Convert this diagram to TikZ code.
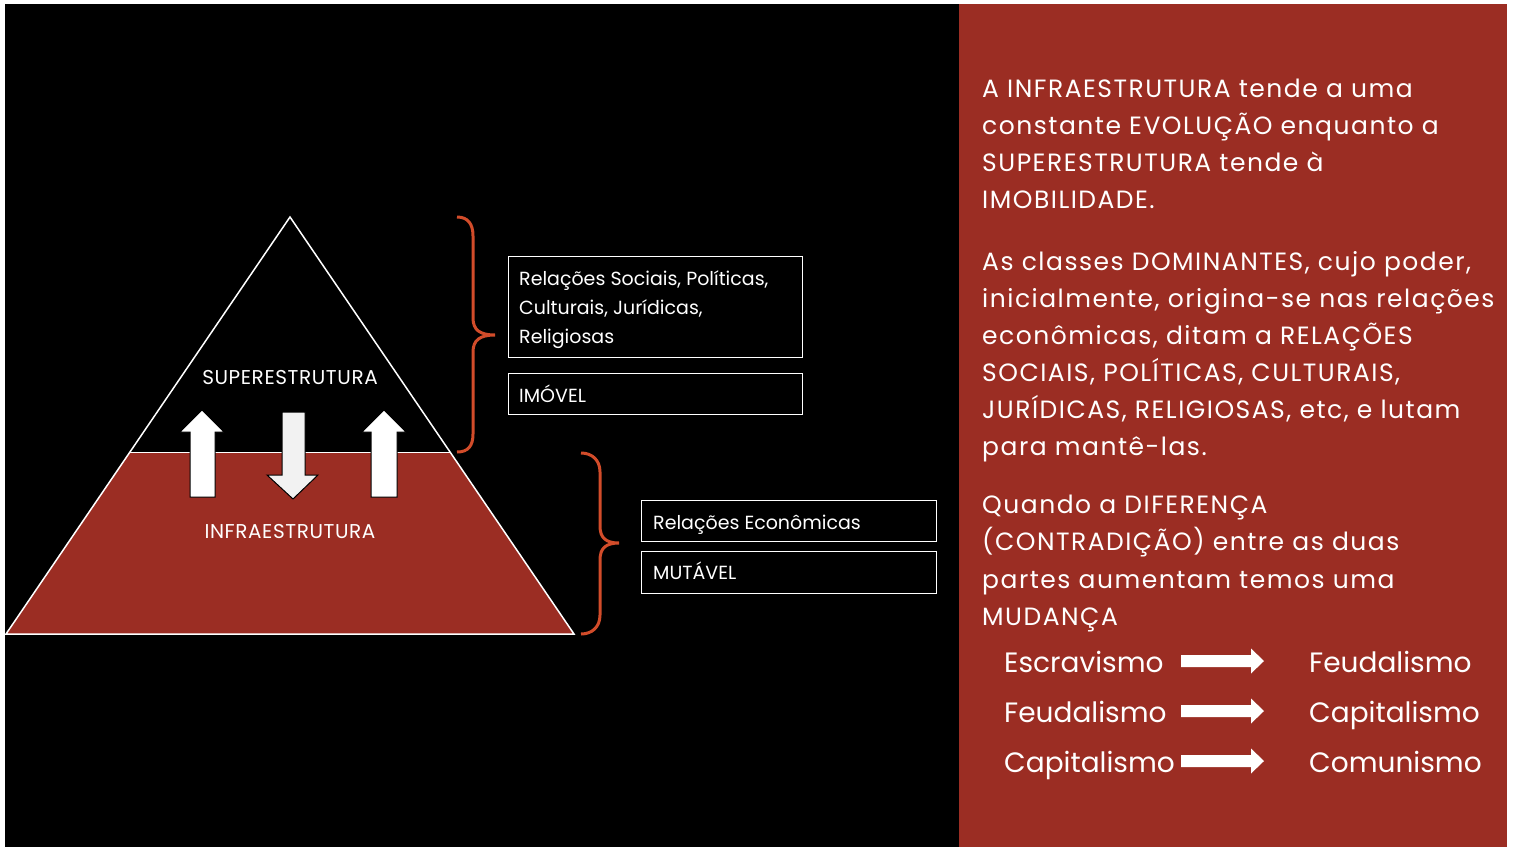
\documentclass[tikz,border=0pt]{standalone}
\usepackage{fontspec}
\setmainfont{Poppins}
\newfontfamily\parafont[LetterSpace=6]{Poppins}
\newfontfamily\tribfont[LetterSpace=3]{Poppins}
\definecolor{panelred}{HTML}{9B2D23}
\definecolor{bracecol}{HTML}{D24C2A}
\definecolor{arrowgray}{HTML}{F2F2F2}
\newcommand{\fs}[1]{\fontsize{#1}{#1}\selectfont}
\begin{document}
\begin{tikzpicture}[x=1pt,y=-1pt,
  txt/.style={text=white,inner sep=0pt,anchor=base west},
  ptxt/.style={txt,font=\parafont\fs{25}},
  ltxt/.style={txt,font=\fs{28}},
  btxt/.style={txt,font=\fs{19}},
  ttxt/.style={text=white,inner sep=0pt,anchor=base,font=\tribfont\fs{20}},
  boxnode/.style={draw=white,line width=1.1pt,anchor=north west,inner sep=0pt},
  brace/.style={draw=bracecol,line width=3pt},
  blockarrow/.style={draw=black,line width=1pt,line join=miter},
  rarrow/.style={fill=white}]
\useasboundingbox (0,0) rectangle (1515,847);
\fill[white] (0,0) rectangle (1515,847);
\fill[black] (5,4) rectangle (959,847);
\fill[panelred] (959,4) rectangle (1507,847);

% pyramid
\coordinate (apex) at (290,217);
\coordinate (bl) at (6,634);
\coordinate (br) at (574,634);
\coordinate (ml) at (130,452);
\coordinate (mr) at (450,452);
\fill[panelred] (ml) -- (mr) -- (br) -- (bl) -- cycle;
\draw[white,line width=1.5pt,line join=miter] (apex) -- (br) -- (bl) -- cycle;
\draw[white,line width=1pt] (ml) -- (mr);
\node[ttxt] (sup) at (290,384) {SUPERESTRUTURA};
\node[ttxt] (inf) at (290,538) {INFRAESTRUTURA};

% block arrows
\filldraw[blockarrow,fill=white] (202,410) -- (224,432) -- (215,432) -- (215,497) -- (190,497) -- (190,432) -- (180,432) -- cycle;
\filldraw[blockarrow,fill=white] (384,410) -- (406,432) -- (397,432) -- (397,497) -- (371,497) -- (371,432) -- (362,432) -- cycle;
\filldraw[blockarrow,fill=arrowgray] (282,412) -- (305,412) -- (305,475) -- (318,475) -- (293,499) -- (267,475) -- (282,475) -- cycle;

% braces
\draw[brace] (457,217) .. controls (468,217) and (473,224) .. (473,236) -- (473,318)
  .. controls (473,330) and (480,335) .. (495,335)
  .. controls (480,335) and (473,340) .. (473,352) -- (473,434)
  .. controls (473,446) and (468,452) .. (457,452);
\draw[brace] (581,453) .. controls (592,453) and (600,460) .. (600,472) -- (600,526)
  .. controls (600,538) and (606,543) .. (619,543)
  .. controls (606,543) and (600,548) .. (600,560) -- (600,615)
  .. controls (600,627) and (592,634) .. (581,634);

% boxes
\node[boxnode,minimum width=294pt,minimum height=101pt] (b1) at (508,256) {};
\node[boxnode,minimum width=294pt,minimum height=41pt] (b2) at (508,373) {};
\node[boxnode,minimum width=295pt,minimum height=41pt] (b3) at (641,500) {};
\node[boxnode,minimum width=295pt,minimum height=42pt] (b4) at (641,551) {};
\node[btxt] (b1a) at (519,285) {Relações Sociais, Políticas,};
\node[btxt] (b1b) at (519,314) {Culturais, Jurídicas,};
\node[btxt] (b1c) at (519,343) {Religiosas};
\node[btxt] (b2a) at (519,402) {IMÓVEL};
\node[btxt] (b3a) at (653,529) {Relações Econômicas};
\node[btxt] (b4a) at (653,579) {MUTÁVEL};

% right panel text
\node[ptxt] (p1a) at (982,97) {A INFRAESTRUTURA tende a uma};
\node[ptxt] (p1b) at (982,134) {constante EVOLUÇÃO enquanto a};
\node[ptxt] (p1c) at (982,171) {SUPERESTRUTURA tende à};
\node[ptxt] (p1d) at (982,208) {IMOBILIDADE.};
\node[ptxt] (p2a) at (982,270) {As classes DOMINANTES, cujo poder,};
\node[ptxt] (p2b) at (982,307) {inicialmente, origina-se nas relações};
\node[ptxt] (p2c) at (982,344) {econômicas, ditam a RELAÇÕES};
\node[ptxt] (p2d) at (982,381) {SOCIAIS, POLÍTICAS, CULTURAIS,};
\node[ptxt] (p2e) at (982,418) {JURÍDICAS, RELIGIOSAS, etc, e lutam};
\node[ptxt] (p2f) at (982,455) {para mantê-las.};
\node[ptxt] (p3a) at (982,513) {Quando a DIFERENÇA};
\node[ptxt] (p3b) at (982,550) {(CONTRADIÇÃO) entre as duas};
\node[ptxt] (p3c) at (982,588) {partes aumentam temos uma};
\node[ptxt] (p3d) at (982,625) {MUDANÇA};

% transitions
\node[ltxt] (e1) at (1004,672) {Escravismo};
\node[ltxt] (e2) at (1004,722) {Feudalismo};
\node[ltxt] (e3) at (1004,772) {Capitalismo};
\node[ltxt] (f1) at (1309,672) {Feudalismo};
\node[ltxt] (f2) at (1309,722) {Capitalismo};
\node[ltxt] (f3) at (1309,772) {Comunismo};
\foreach \yy in {661,711,761}{
  \fill[rarrow] (1181,\yy-6) -- (1251,\yy-6) -- (1251,\yy-12.5) -- (1264,\yy) -- (1251,\yy+12.5) -- (1251,\yy+6) -- (1181,\yy+6) -- cycle;
}
\end{tikzpicture}
\end{document}
